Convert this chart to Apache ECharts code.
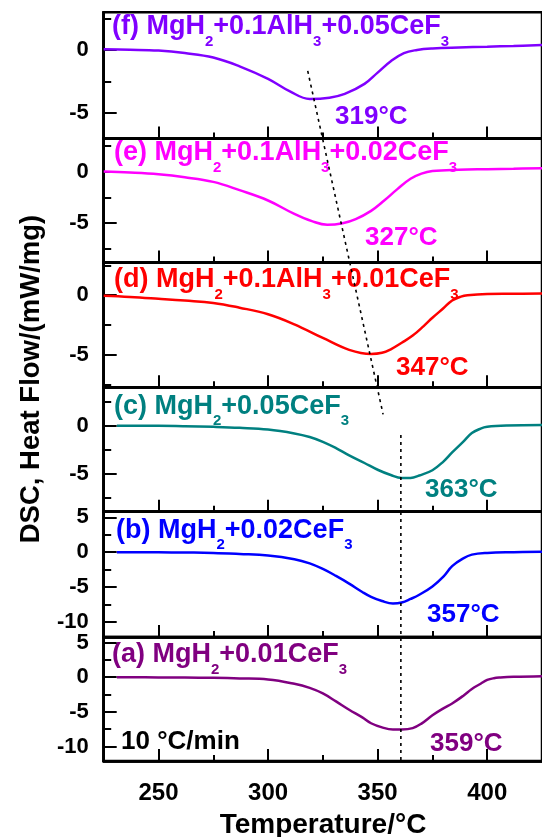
<!DOCTYPE html>
<html><head><meta charset="utf-8">
<script src="https://cdn.jsdelivr.net/npm/echarts@6/dist/echarts.min.js"></script>
<style>html,body{margin:0;padding:0;background:#fff}#c{width:542px;height:837px}</style>
</head><body><div id="c"></div>
<script>
// ---- data (top panel first) ----
const panelNames = ['f', 'e', 'd', 'c', 'b', 'a'];
const panelColors = ['#8000ff', '#ff00ff', '#ff0000', '#008080', '#0000ff', '#800080'];
const panelLabels = [
  ['(f) MgH', '2', '+0.1AlH', '3', '+0.05CeF', '3'],
  ['(e) MgH', '2', '+0.1AlH', '3', '+0.02CeF', '3'],
  ['(d) MgH', '2', '+0.1AlH', '3', '+0.01CeF', '3'],
  ['(c) MgH', '2', '+0.05CeF', '3'],
  ['(b) MgH', '2', '+0.02CeF', '3'],
  ['(a) MgH', '2', '+0.01CeF', '3']
];
const peakLabels = ['319°C', '327°C', '347°C', '363°C', '357°C', '359°C'];

const tempF = [225, 237, 250, 262, 275, 287, 300, 310, 319, 328, 335, 344, 350, 356, 362, 368, 375, 387, 400, 412, 425];
const dscF  = [0.05, 0.02, -0.05, -0.25, -0.6, -1.3, -2.3, -3.3, -3.9, -3.8, -3.5, -2.7, -1.8, -0.9, -0.25, 0.0, 0.12, 0.2, 0.26, 0.32, 0.4];

const tempE = [225, 237, 250, 262, 275, 287, 300, 312, 320, 327, 334, 340, 347, 353, 359, 365, 370, 375, 387, 400, 412, 425];
const dscE  = [0, -0.1, -0.27, -0.55, -1.0, -1.8, -2.8, -4.1, -4.8, -5.15, -5.0, -4.6, -3.8, -2.8, -1.7, -0.7, -0.2, 0.05, 0.18, 0.23, 0.27, 0.33];

const tempD = [225, 237, 250, 262, 275, 287, 300, 312, 325, 337, 347, 352, 356, 361, 366, 371, 375, 380, 384, 388, 391, 400, 412, 425];
const dscD  = [-0.05, -0.15, -0.3, -0.45, -0.65, -1.05, -1.6, -2.45, -3.6, -4.6, -4.95, -4.85, -4.55, -4.0, -3.4, -2.6, -1.9, -1.1, -0.45, -0.12, 0.0, 0.1, 0.12, 0.15];

const tempC = [231, 250, 262, 275, 287, 300, 312, 319, 325, 331, 337, 344, 350, 356, 361, 365, 369, 375, 380, 384, 389, 393, 397, 400, 409, 425];
const dscC  = [0, 0, -0.03, -0.1, -0.2, -0.38, -0.78, -1.15, -1.65, -2.3, -3.05, -3.85, -4.55, -5.1, -5.4, -5.4, -5.15, -4.6, -3.7, -2.75, -1.65, -0.75, -0.28, -0.1, 0.03, 0.08];

const tempB = [231, 250, 262, 275, 287, 300, 312, 319, 325, 331, 337, 343, 347, 352, 357, 361, 365, 369, 375, 380, 384, 389, 393, 400, 412, 425];
const dscB  = [0, -0.02, -0.05, -0.1, -0.25, -0.47, -1.0, -1.6, -2.4, -3.4, -4.5, -5.7, -6.4, -7.0, -7.35, -7.2, -6.7, -6.1, -4.9, -3.5, -2.0, -0.9, -0.35, -0.1, 0.0, 0.05];

const tempA = [231, 250, 262, 275, 287, 300, 312, 319, 325, 331, 337, 343, 347, 352, 357, 361, 366, 370, 375, 380, 384, 389, 393, 397, 400, 403, 406, 412, 425];
const dscA  = [0, -0.03, -0.06, -0.1, -0.18, -0.33, -0.95, -1.55, -2.35, -3.5, -4.7, -5.8, -6.65, -7.25, -7.55, -7.55, -7.35, -6.7, -5.5, -4.5, -3.8, -2.7, -1.7, -0.95, -0.4, -0.15, -0.05, 0.05, 0.14];

const temps = [tempF, tempE, tempD, tempC, tempB, tempA];
const dscs  = [dscF, dscE, dscD, dscC, dscB, dscA];

const xRange = [225, 425];
const xMajorTicks = [250, 300, 350, 400];
const xMinorTicks = [275, 325, 375, 425];
const yRanges = [[-7.05, 3], [-8.8, 3.2], [-7.75, 2.75], [-8.9, 4], [-12.15, 5.8], [-12.1, 5.8]];
const yMajorTicks = [[-5, 0], [-5, 0], [-5, 0], [-5, 0], [-10, -5, 0, 5], [-10, -5, 0, 5]];
const yMinorTicks = [[-2.5, 2.5], [-7.5, -2.5, 2.5], [-7.5, -2.5, 2.5], [-7.5, -2.5, 2.5], [-7.5, -2.5, 2.5], [-7.5, -2.5, 2.5]];

// dotted guide lines: [panelIndex, temperature, value] endpoints
const slantStart = [0, 318.1, -1.67];
const slantEnd   = [3, 352.5, 1.19];
const vertStart  = [3, 360.6, -0.95];
const vertEnd    = [5, 360.6, -12.1];

// ---- layout ----
const FONT = "'Liberation Sans', Arial, sans-serif";
const gridTops = [12.3, 138.5, 262.5, 387.3, 511.7, 637];
const gridHeights = [126.2, 124, 124.8, 124.4, 125.3, 124];
const gridLeft = 103.7, gridWidth = 442;

const chart = echarts.init(document.getElementById('c'), null, {renderer: 'canvas'});
const grids = [], xAxes = [], yAxes = [], series = [];
const LINE = {show: true, onZero: false, lineStyle: {color: '#000', width: 2.5}};
const NOLINE = {show: false, onZero: false};
for (let i = 0; i < 6; i++) {
  grids.push({left: gridLeft, width: gridWidth, top: gridTops[i], height: gridHeights[i],
    show: true, borderColor: '#000', borderWidth: 2.5, backgroundColor: 'transparent'});
  const isBottom = i === 5;
  xAxes.push({type: 'value', gridIndex: i, min: xRange[0], max: xRange[1], position: 'bottom',
    axisLine: LINE, splitLine: {show: false},
    axisTick: {show: true, inside: true, length: 12, lineStyle: {color: '#000', width: 2}, customValues: xMajorTicks},
    axisLabel: {show: isBottom, customValues: xMajorTicks, margin: 20, color: '#000', fontSize: 24, fontWeight: 'bold', fontFamily: FONT}});
  xAxes.push({type: 'value', gridIndex: i, min: xRange[0], max: xRange[1], position: 'bottom',
    axisLine: LINE, splitLine: {show: false}, axisLabel: {show: false},
    axisTick: {show: true, inside: true, length: 6, lineStyle: {color: '#000', width: 2}, customValues: xMinorTicks}});
  yAxes.push({type: 'value', gridIndex: i, min: yRanges[i][0], max: yRanges[i][1], position: 'left',
    axisLine: LINE, splitLine: {show: false},
    axisTick: {show: true, inside: true, length: 13, lineStyle: {color: '#000', width: 2}, customValues: yMajorTicks[i]},
    axisLabel: {show: true, customValues: yMajorTicks[i], margin: 15, color: '#000', fontSize: 22, fontWeight: 'bold', fontFamily: FONT}});
  yAxes.push({type: 'value', gridIndex: i, min: yRanges[i][0], max: yRanges[i][1], position: 'left',
    axisLine: LINE, splitLine: {show: false}, axisLabel: {show: false},
    axisTick: {show: true, inside: true, length: 7.5, lineStyle: {color: '#000', width: 2}, customValues: yMinorTicks[i]}});
  series.push({type: 'line', xAxisIndex: 2 * i, yAxisIndex: 2 * i,
    data: temps[i].map((t, k) => [t, dscs[i][k]]),
    showSymbol: false, smooth: 0.4,
    lineStyle: {color: panelColors[i], width: 2.5}, silent: true, animation: false});
}

chart.setOption({animation: false, backgroundColor: '#fff', grid: grids, xAxis: xAxes, yAxis: yAxes, series: series});

// ---- annotations ----
const panelLabelPos = [[112, 27], [114, 153], [114, 280], [114, 406.5], [116, 530.5], [112, 655]];
const peakLabelPos = [[335, 116.5], [365, 238], [396, 368], [425, 489.5], [427, 615], [430, 743.5]];
const graphics = [];
for (let i = 0; i < 6; i++) {
  const parts = panelLabels[i];
  let txt = '';
  parts.forEach((p, k) => { txt += (k % 2 === 0 ? '{m|' : '{s|') + p + '}'; });
  graphics.push({type: 'text', x: panelLabelPos[i][0], y: panelLabelPos[i][1], silent: true,
    style: {text: txt, verticalAlign: 'middle', align: 'left',
      rich: {
        m: {fontSize: 27, fontWeight: 'bold', fontFamily: FONT, fill: panelColors[i]},
        s: {fontSize: 15, fontWeight: 'bold', fontFamily: FONT, fill: panelColors[i], padding: [29, 0, 0, 0]}
      }}});
  graphics.push({type: 'text', x: peakLabelPos[i][0], y: peakLabelPos[i][1], silent: true,
    style: {text: peakLabels[i], verticalAlign: 'middle', align: 'left', fontSize: 26, fontWeight: 'bold', fontFamily: FONT, fill: panelColors[i]}});
}
graphics.push({type: 'text', x: 121, y: 741.5, silent: true,
  style: {text: '10 °C/min', verticalAlign: 'middle', align: 'left', fontSize: 26, fontWeight: 'bold', fontFamily: FONT, fill: '#000'}});
graphics.push({type: 'text', x: 323, y: 825, silent: true,
  style: {text: 'Temperature/°C', verticalAlign: 'middle', align: 'center', fontSize: 28, fontWeight: 'bold', fontFamily: FONT, fill: '#000'}});
graphics.push({type: 'text', x: 31, y: 379, rotation: Math.PI / 2, silent: true,
  style: {text: 'DSC, Heat Flow/(mW/mg)', verticalAlign: 'middle', align: 'center', fontSize: 27.5, fontWeight: 'bold', fontFamily: FONT, fill: '#000'}});

function px(pt) {
  return chart.convertToPixel({xAxisIndex: 2 * pt[0], yAxisIndex: 2 * pt[0]}, [pt[1], pt[2]]);
}
[[slantStart, slantEnd], [vertStart, vertEnd]].forEach(([a, b]) => {
  const p1 = px(a), p2 = px(b);
  graphics.push({type: 'line', silent: true, z: 50,
    shape: {x1: p1[0], y1: p1[1], x2: p2[0], y2: p2[1]},
    style: {stroke: '#000', lineWidth: 1.6, lineDash: [3, 4]}});
});
chart.setOption({graphic: graphics});
</script></body></html>
